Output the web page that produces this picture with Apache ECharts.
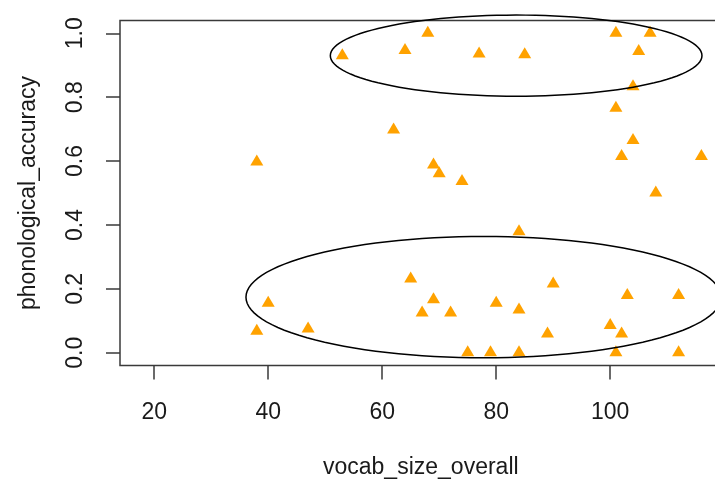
<!DOCTYPE html>
<html>
<head>
<meta charset="utf-8">
<title>vocab_size_overall vs phonological_accuracy</title>
<script src="https://cdn.jsdelivr.net/npm/echarts@6/dist/echarts.min.js"></script>
<style>
  html, body { margin: 0; padding: 0; background: #fff; }
  #chart { width: 715px; height: 480px; }
</style>
</head>
<body>
<div id="chart"></div>
<script>
// data
const vocabSize = [53, 64, 68, 77, 85, 101, 107, 105, 104, 101, 62, 38, 69, 70, 74, 104, 102, 116, 108, 84,
  65, 40, 38, 47, 69, 67, 72, 80, 84, 90, 89, 75, 79, 84, 100, 102, 103, 101, 112, 112];
const phonAccuracy = [0.93, 0.946, 1.0, 0.935, 0.933, 1.0, 1.0, 0.943, 0.833, 0.765, 0.697, 0.597, 0.588, 0.56, 0.536, 0.664, 0.614, 0.614, 0.5, 0.379,
  0.231, 0.155, 0.067, 0.074, 0.166, 0.124, 0.124, 0.155, 0.134, 0.215, 0.059, 0, 0, 0, 0.085, 0.059, 0.179, 0, 0.179, 0];

const xTicks = [20, 40, 60, 80, 100];
const yTicks = [0, 0.2, 0.4, 0.6, 0.8, 1.0];

// hand drawn groups: centre x, centre y, radius x, radius y (data units)
const groupCx = [83.5, 77.8];
const groupCy = [0.93, 0.174];
const groupRx = [32.6, 41.7];
const groupRy = [0.127, 0.19];

const font = "'Liberation Sans', Arial, Helvetica, sans-serif";
const ink = "#1a1a1a";

const points = vocabSize.map((v, i) => [v, phonAccuracy[i]]);
const ellipses = groupCx.map((cx, i) => [cx, groupCy[i], groupRx[i], groupRy[i]]);

const chart = echarts.init(document.getElementById("chart"));

const option = {
  animation: false,
  grid: {
    left: 120,
    top: 20.5,
    right: -20.6,
    bottom: 114.5,
    show: true,
    borderColor: "#3a3a3a",
    borderWidth: 1.5,
    backgroundColor: "transparent",
    outerBoundsMode: "none",
  },
  xAxis: {
    type: "value",
    min: 14,
    max: 122,
    splitLine: { show: false },
    // keep the axis on the box edge, not at y = 0
    axisLine: { show: false, onZero: false },
    axisTick: {
      show: true,
      length: 14,
      customValues: xTicks,
      lineStyle: { color: "#3a3a3a", width: 1.5 },
    },
    axisLabel: {
      customValues: xTicks,
      margin: 36,
      fontSize: 23,
      color: ink,
      fontFamily: font,
    },
    name: "vocab_size_overall",
    nameLocation: "middle",
    nameGap: 91,
    nameTextStyle: {
      fontSize: 23,
      color: ink,
      fontFamily: font,
      padding: [0, 14, 0, 0],
    },
  },
  yAxis: {
    type: "value",
    min: -0.04,
    max: 1.04,
    splitLine: { show: false },
    axisLine: { show: false, onZero: false },
    axisTick: {
      show: true,
      length: 14,
      customValues: yTicks,
      lineStyle: { color: "#3a3a3a", width: 1.5 },
    },
    axisLabel: {
      customValues: yTicks,
      rotate: 90,
      margin: 33,
      fontSize: 23,
      color: ink,
      fontFamily: font,
      formatter: (v) => v.toFixed(1),
    },
    name: "phonological_accuracy",
    nameLocation: "middle",
    nameGap: 80,
    nameTextStyle: {
      fontSize: 23,
      color: ink,
      fontFamily: font,
    },
  },
  series: [
    {
      type: "scatter",
      data: points,
      symbol: "triangle",
      symbolSize: [13, 11],
      // R puts the centroid on the point, echarts the box centre
      symbolOffset: [0, -2],
      itemStyle: { color: "#FFA200", opacity: 1 },
      z: 2,
    },
    {
      type: "custom",
      data: ellipses,
      encode: { x: 0, y: 1 },
      clip: false,
      z: 3,
      renderItem: function (params, api) {
        const cx = api.value(0);
        const cy = api.value(1);
        const rx = api.value(2);
        const ry = api.value(3);
        const pts = [];
        for (let k = 0; k < 120; k++) {
          const t = (k / 120) * Math.PI * 2;
          pts.push(api.coord([cx + rx * Math.cos(t), cy + ry * Math.sin(t)]));
        }
        return {
          type: "polygon",
          shape: { points: pts, smooth: 0 },
          style: { fill: "none", stroke: "#000", lineWidth: 1.5 },
          silent: true,
        };
      },
    },
  ],
};

chart.setOption(option);
</script>
</body>
</html>
